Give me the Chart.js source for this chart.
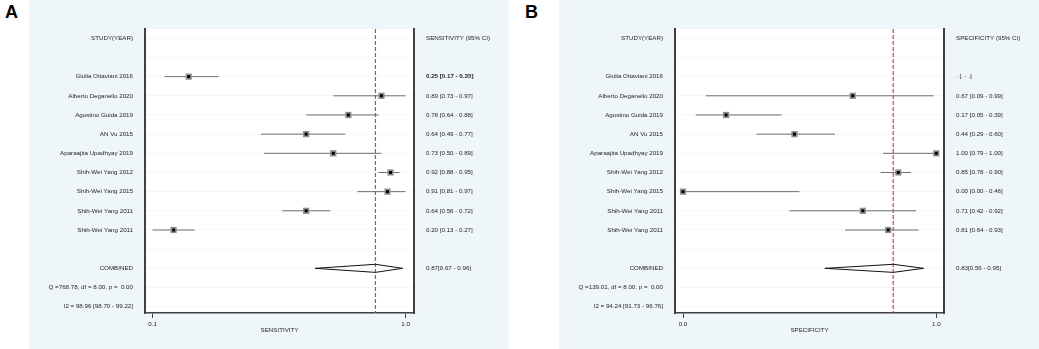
<!DOCTYPE html>
<html><head><meta charset="utf-8">
<script src="https://cdn.jsdelivr.net/npm/chart.js@4.4.0/dist/chart.umd.min.js"></script>
<style>
html,body{margin:0;padding:0;background:#fff;width:1039px;height:349px;overflow:hidden;position:relative}
.panel{position:absolute;top:0;width:480px;height:349px}
.lab{position:absolute;top:3px;font:bold 18px "Liberation Sans",Arial,sans-serif;line-height:18px;color:#000}
</style></head><body>
<div class="lab" style="left:5px">A</div>
<div class="lab" style="left:525px">B</div>
<canvas id="cA" class="panel" width="480" height="349" style="left:29px"></canvas>
<canvas id="cB" class="panel" width="480" height="349" style="left:559px"></canvas>
<script>
// ---- data ----
const studies = ["Giulia Ottaviani 2016","Alberto Deganello 2020","Agostino Guida 2019","AN Vu 2015","Aparaajita Upadhyay 2019","Shih-Wei Yang 2012","Shih-Wei Yang 2015","Shih-Wei Yang 2011","Shih-Wei Yang 2011"];
const sens   = [0.25,0.89,0.78,0.64,0.73,0.92,0.91,0.64,0.20];
const sensLo = [0.17,0.73,0.64,0.49,0.50,0.88,0.81,0.56,0.13];
const sensHi = [0.35,0.97,0.88,0.77,0.89,0.95,0.97,0.72,0.27];
const spec   = [null,0.67,0.17,0.44,1.00,0.85,0.00,0.71,0.81];
const specLo = [null,0.09,0.05,0.29,0.79,0.78,0.00,0.42,0.64];
const specHi = [null,0.99,0.39,0.60,1.00,0.90,0.46,0.92,0.93];
const sensCombined = [0.87,0.67,0.96];
const specCombined = [0.83,0.56,0.95];
const sensStats = ["Q =768.78, df = 8.00, p =  0.00","I2 = 98.96 [98.70 - 99.22]"];
const specStats = ["Q =139.01, df = 8.00, p =  0.00","I2 = 94.24 [91.73 - 96.76]"];
const sensTicks = [0.13,0.97];
const specTicks = [0.00,1.00];

const FONT = {family:'"Liberation Sans", Arial, sans-serif', size:6.2};
const TXT = '#1e1e1e';
const FRAME = '#404040';

function fmt(v){return v.toFixed(2);}

function build(id, est, lo, hi, comb, stats, xTicks, header, axisTitle, xmin, xmax, boldFirst){
  const nRows = studies.length + 6;
  const rows = Array.from({length:nRows},(_,i)=>i);
  const left = ['STUDY(YEAR)',''].concat(studies,['','COMBINED'],stats);
  const right = [header,''].concat(est.map((v,i)=> v==null ? '. [. - .]' : fmt(v)+' ['+fmt(lo[i])+' - '+fmt(hi[i])+']'),
     ['', fmt(comb[0])+'['+fmt(comb[1])+' - '+fmt(comb[2])+']','','']);
  const combRow = studies.length + 3;
  const dh = 0.21;
  const ymin = -0.485, ymax = 14.33;
  const datasets = [];
  const pts = [];
  est.forEach((v,i)=>{ if(v!=null) pts.push({x:v,y:i+2}); });
  datasets.push({data:pts, pointStyle:'rect', pointRadius:2.1, backgroundColor:'#000', borderWidth:0, order:0});
  datasets.push({data:pts, pointStyle:'rect', pointRadius:4.4, backgroundColor:'#8e8e8e', borderWidth:0, order:1});
  est.forEach((v,i)=>{
    if(v==null) return;
    datasets.push({data:[{x:lo[i],y:i+2},{x:hi[i],y:i+2}], showLine:true, borderColor:'#6e6e6e', borderWidth:1, pointRadius:0, order:3});
  });
  datasets.push({data:[{x:comb[1],y:combRow},{x:comb[0],y:combRow-dh},{x:comb[2],y:combRow},{x:comb[0],y:combRow+dh},{x:comb[1],y:combRow}],
    showLine:true, borderColor:'#111', borderWidth:1, pointRadius:0, order:2});
  datasets.push({data:[{x:comb[0],y:ymin},{x:comb[0],y:ymax}], showLine:true, borderColor:'#c8435c', borderWidth:1.2, borderDash:[4,2], pointRadius:0, order:4});

  const bgPlugin = {id:'bg', beforeDraw(chart){
    const c = chart.ctx, a = chart.chartArea;
    c.save(); c.fillStyle = '#eef6fa'; c.fillRect(0,0,chart.width,chart.height);
    c.fillStyle = '#ffffff'; c.fillRect(a.left,a.top,a.right-a.left,a.bottom-a.top); c.restore();
  }};

  new Chart(document.getElementById(id), {
    type:'scatter',
    data:{datasets},
    plugins:[bgPlugin],
    options:{
      responsive:false, animation:false, devicePixelRatio:1, events:[],
      layout:{padding:{top:29,left:0,right:0,bottom:0}},
      plugins:{legend:{display:false}, tooltip:{enabled:false}},
      scales:{
        x:{type:'linear', position:'bottom', min:xmin, max:xmax,
          afterBuildTicks:s=>{s.ticks = xTicks.map(v=>({value:v}));},
          ticks:{callback:v=>Number(v).toFixed(1), font:FONT, color:TXT, padding:3, maxRotation:0, autoSkip:false},
          grid:{display:true, drawOnChartArea:false, drawTicks:true, tickLength:5, tickColor:FRAME, tickWidth:1},
          border:{display:true, color:FRAME, width:1.5},
          title:{display:true, text:axisTitle, font:FONT, color:TXT, padding:{top:0,bottom:14.6}},
          afterFit:s=>{s.height=36;}
        },
        y:{type:'linear', position:'left', reverse:true, min:ymin, max:ymax,
          afterBuildTicks:s=>{s.ticks = rows.map(v=>({value:v}));},
          ticks:{callback:v=>left[Math.round(v)], font:FONT, color:TXT, padding:12, autoSkip:false},
          grid:{display:true, color:'#f4f6f8', lineWidth:1, drawTicks:false},
          border:{display:true, color:FRAME, width:2},
          afterFit:s=>{s.width=116;}
        },
        y2:{type:'linear', position:'right', reverse:true, min:ymin, max:ymax,
          afterBuildTicks:s=>{s.ticks = rows.map(v=>({value:v}));},
          ticks:{callback:v=>right[Math.round(v)], color:TXT, padding:12, autoSkip:false,
            font:ctx=>({family:FONT.family, size:FONT.size, weight:(boldFirst && ctx.tick && ctx.tick.value===2)?'bold':'normal'})},
          grid:{display:true, drawOnChartArea:false, drawTicks:false},
          border:{display:true, color:FRAME, width:2},
          afterFit:s=>{s.width=95;}
        }
      }
    }
  });
}

build('cA', sens, sensLo, sensHi, sensCombined, sensStats, sensTicks, 'SENSITIVITY (95% CI)', 'SENSITIVITY', 0.105, 0.998, true);
build('cB', spec, specLo, specHi, specCombined, specStats, specTicks, 'SPECIFICITY (95% CI)', 'SPECIFICITY', -0.0316, 1.0304, false);
</script>
</body></html>
